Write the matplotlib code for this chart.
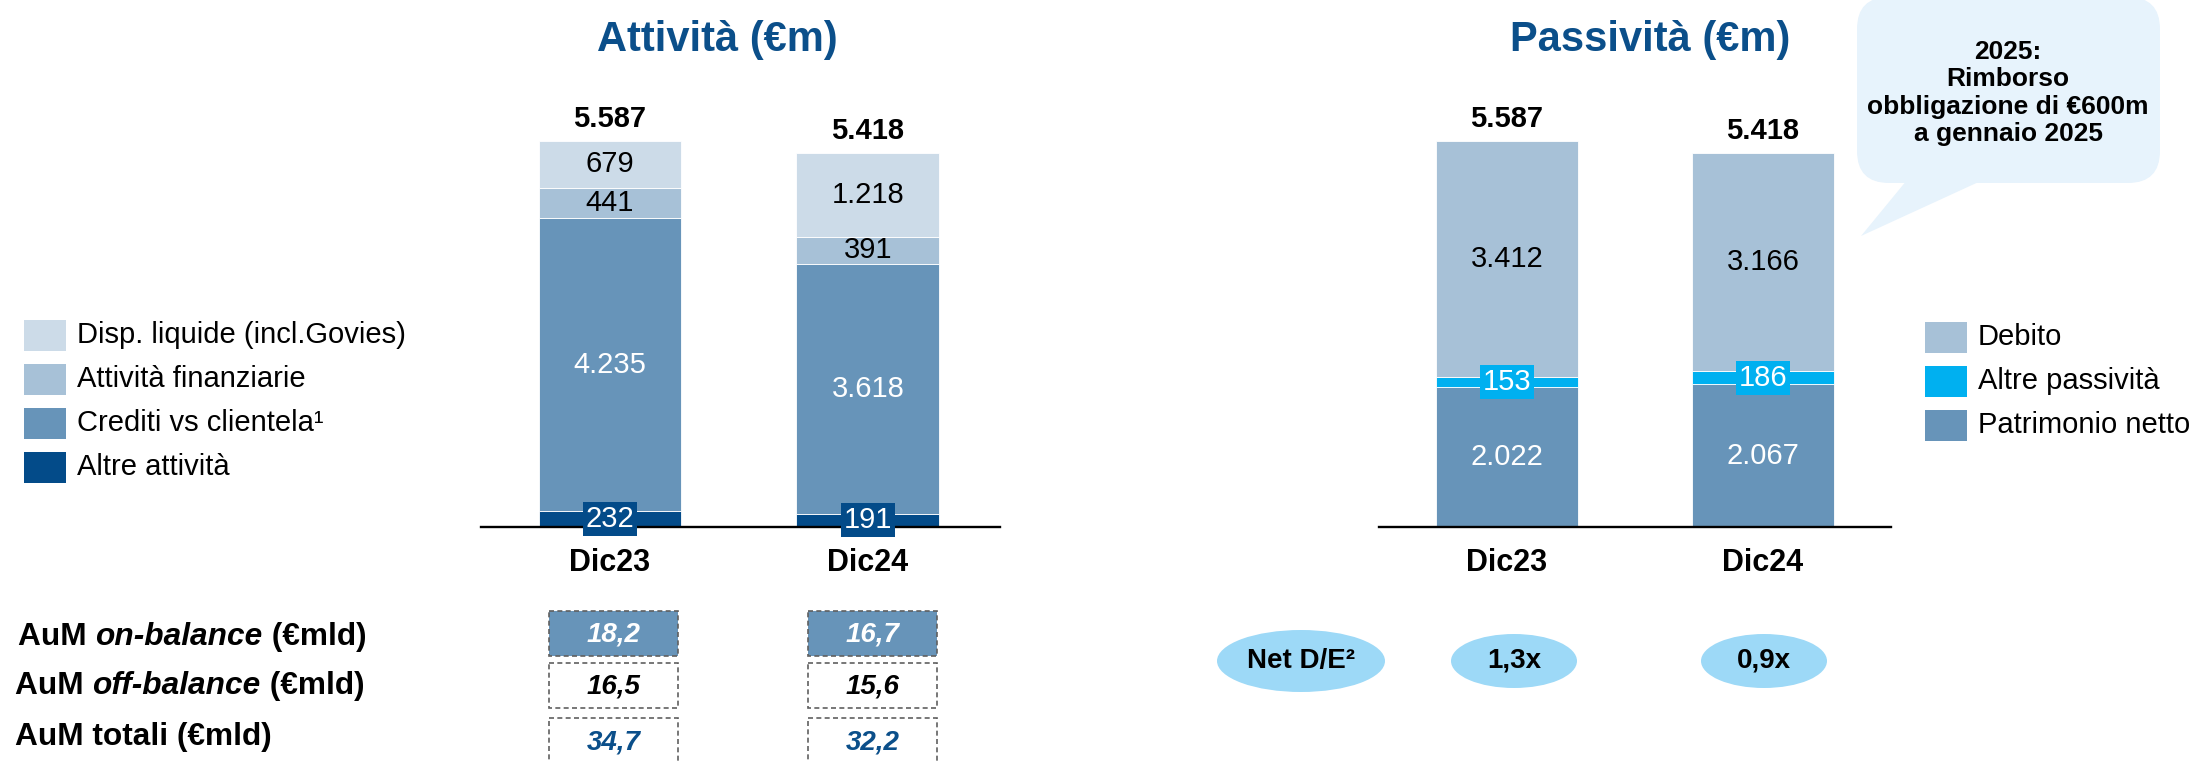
import matplotlib
matplotlib.use("Agg")
import matplotlib.pyplot as plt
from matplotlib.patches import Rectangle, Ellipse, FancyBboxPatch, Polygon

plt.rcParams['font.family'] = ['Liberation Sans', 'DejaVu Sans']

# --- data ---
categories = ['Dic23', 'Dic24']

# Attività (€m), from bottom to top
altre_attivita = [232, 191]
crediti = [4235, 3618]
att_finanziarie = [441, 391]
disp_liquide = [679, 1218]
totale_attivita = [5587, 5418]

# Passività (€m), from bottom to top
patrimonio = [2022, 2067]
altre_passivita = [153, 186]
debito = [3412, 3166]
totale_passivita = [5587, 5418]

aum_on = [18.2, 16.7]
aum_off = [16.5, 15.6]
aum_tot = [34.7, 32.2]
net_de = [1.3, 0.9]

# --- colours ---
blu_scuro = '#034B89'
blu_medio = '#6794B9'
blu_chiaro = '#A7C1D7'
blu_pallido = '#CCDBE8'
ciano = '#00B0F0'
titolo_c = '#0B4F8A'
ellisse_c = '#9DD9F7'
fumetto_c = '#E7F3FC'

W, H = 2195, 762
PX = 386 / 5587  # pixels per €m


def fmt(v):
    return f"{v:,}".replace(',', '.')


def fmt_dec(v):
    return f"{v:.1f}".replace('.', ',')


def rect(x0, x1, ytop, ybot):
    return [x0 / W, 1 - ybot / H, (x1 - x0) / W, (ybot - ytop) / H]


fig = plt.figure(figsize=(W / 100, H / 100), dpi=100)

# overlay in pixel coordinates for titles, legends, table, callout
ov = fig.add_axes([0, 0, 1, 1])
ov.set_xlim(0, W)
ov.set_ylim(H, 0)
ov.axis('off')


def bar_chart(ax, segs, totals, lims, width):
    ax.set_facecolor('none')
    ax.set_xlim(*lims)
    ax.set_ylim(0, 427 / PX)
    x = list(range(len(categories)))
    bottom = [0] * len(categories)
    for vals, col, txt_c, box in segs:
        ax.bar(x, vals, width, bottom=bottom, color=col, edgecolor='white', linewidth=0.6)
        for i, v in enumerate(vals):
            yc = bottom[i] + v / 2
            if box:
                ax.text(i, yc, fmt(v), ha='center', va='center', fontsize=21, color='white',
                        bbox=dict(boxstyle='square,pad=0.1', fc=col, ec='none'), zorder=4)
            else:
                ax.text(i, yc, fmt(v), ha='center', va='center', fontsize=21, color=txt_c)
        bottom = [b + v for b, v in zip(bottom, vals)]
    for i, t in enumerate(totals):
        ax.text(i, t + 22 / PX, fmt(t), ha='center', va='center', fontsize=21, weight='bold')
    for i, c in enumerate(categories):
        ax.text(i, -36 / PX, c, ha='center', va='center', fontsize=22, weight='bold')
    for s in ['top', 'left', 'right']:
        ax.spines[s].set_visible(False)
    ax.spines['bottom'].set_linewidth(1.7)
    ax.spines['bottom'].set_color('black')
    ax.set_xticks([])
    ax.set_yticks([])


ax1 = fig.add_axes(rect(481, 1000, 100, 527))
bar_chart(ax1, [(altre_attivita, blu_scuro, 'white', True),
                (crediti, blu_medio, 'white', False),
                (att_finanziarie, blu_chiaro, 'black', False),
                (disp_liquide, blu_pallido, 'black', False)],
          totale_attivita, (-0.5, 1.512), 0.554)

ax2 = fig.add_axes(rect(1379, 1891, 100, 527))
bar_chart(ax2, [(patrimonio, blu_medio, 'white', False),
                (altre_passivita, ciano, 'white', True),
                (debito, blu_chiaro, 'black', False)],
          totale_passivita, (-0.5, 1.5), 0.555)

# titles
ov.text(717, 40, 'Attività (€m)', fontsize=30, weight='bold', color=titolo_c, ha='center', va='center')
ov.text(1650, 40, 'Passività (€m)', fontsize=30, weight='bold', color=titolo_c, ha='center', va='center')

# legends
leg_sx = [('Disp. liquide (incl.Govies)', blu_pallido), ('Attività finanziarie', blu_chiaro),
          ('Crediti vs clientela¹', blu_medio), ('Altre attività', blu_scuro)]
for k, (lab, col) in enumerate(leg_sx):
    yc = 335 + 44 * k
    ov.add_patch(Rectangle((24, yc - 15.5), 42, 31, fc=col, ec='none'))
    ov.text(77, yc, lab, fontsize=21, va='center', ha='left')

leg_dx = [('Debito', blu_chiaro), ('Altre passività', ciano), ('Patrimonio netto', blu_medio)]
for k, (lab, col) in enumerate(leg_dx):
    yc = 337 + 44 * k
    ov.add_patch(Rectangle((1925, yc - 15.5), 42, 31, fc=col, ec='none'))
    ov.text(1978, yc, lab, fontsize=21, va='center', ha='left')

# AuM table
renderer = fig.canvas.get_renderer()
righe = [
    (18, 637, [('AuM ', 'normal'), ('on-balance', 'italic'), (' (€mld)', 'normal')]),
    (15, 686, [('AuM ', 'normal'), ('off-balance', 'italic'), (' (€mld)', 'normal')]),
    (15, 737, [('AuM totali (€mld)', 'normal')]),
]
for x, y, parts in righe:
    for txt, st in parts:
        t = ov.text(x, y, txt, fontsize=22.8, weight='bold', style=st, va='center', ha='left')
        x += t.get_window_extent(renderer).width

box_x = [549, 808]
box_w = 129
row_top = [611, 663, 718]
row_h = [45, 45, 50]
row_vals = [aum_on, aum_off, aum_tot]
row_fill = [blu_medio, 'white', 'white']
row_txt = ['white', 'black', titolo_c]
for r, vals in enumerate(row_vals):
    for i, v in enumerate(vals):
        ov.add_patch(Rectangle((box_x[i], row_top[r]), box_w, row_h[r], fc=row_fill[r],
                               ec='#606060', lw=1.2, ls=(0, (3, 2))))
        ov.text(box_x[i] + box_w / 2, row_top[r] + 24, fmt_dec(v), fontsize=20, weight='bold',
                style='italic', color=row_txt[r], ha='center', va='center')

# Net D/E ellipses
ov.add_patch(Ellipse((1301, 661), 168, 62, fc=ellisse_c, ec='none'))
ov.text(1301, 661, 'Net D/E²', fontsize=20, weight='bold', ha='center', va='center')
ell_x = [1514, 1764]
for i, v in enumerate(net_de):
    ov.add_patch(Ellipse((ell_x[i], 661), 126, 54, fc=ellisse_c, ec='none'))
    ov.text(ell_x[i], 661, fmt_dec(v) + 'x', fontsize=20, weight='bold', ha='center', va='center')

# callout
ov.add_patch(FancyBboxPatch((1857, -3), 303, 186, boxstyle='round,pad=0,rounding_size=32',
                            fc=fumetto_c, ec='none'))
ov.add_patch(Polygon([(1907, 180), (1983, 180), (1861, 236)], closed=True, fc=fumetto_c, ec='none'))
ov.text(2008, 93, '2025:\nRimborso\nobbligazione di €600m\na gennaio 2025', fontsize=19,
        weight='bold', ha='center', va='center', linespacing=1.17)

fig.savefig('out.png', dpi=100)
